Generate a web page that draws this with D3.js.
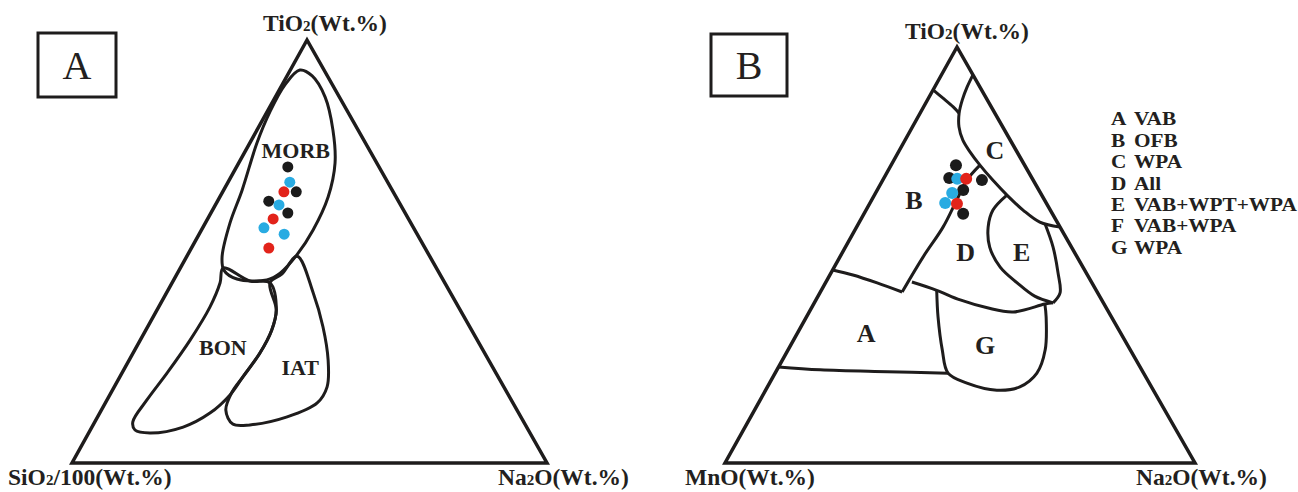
<!DOCTYPE html>
<html>
<head>
<meta charset="utf-8">
<script src="https://cdn.jsdelivr.net/npm/d3@7/dist/d3.min.js"></script>
<style>
  body { margin: 0; background: #fff; }
  svg text { font-family: "Liberation Serif", "Times New Roman", serif; fill: #231f20; }
</style>
</head>
<body>
<script>
'use strict';

// ---- panel A : TiO2 - SiO2/100 - Na2O  (each point is [TiO2, SiO2/100, Na2O]) ----
const morbField = [
    [92.9, 5.1, 2.0], [91.5, 3.2, 5.3], [86.5, 3.0, 10.5], [78.7, 5.3, 16.0],
    [70.9, 8.8, 20.3], [62.9, 14.3, 22.8], [55.1, 21.4, 23.5], [49.2, 27.8, 23.0],
    [44.9, 33.5, 21.6], [43.3, 37.1, 19.6], [43.5, 43.3, 13.2], [45.6, 45.0, 9.4],
    [48.7, 43.8, 7.5], [56.7, 38.1, 5.2], [64.5, 31.6, 3.9], [75.7, 22.8, 1.5],
    [83.0, 16.4, 0.6], [89.4, 10.0, 0.6]
];
const bonField = [
    [46.1, 44.9, 9.0], [43.0, 40.8, 16.2], [42.6, 36.8, 20.6], [36.2, 38.7, 25.1],
    [31.4, 42.1, 26.5], [26.0, 47.3, 26.7], [20.3, 53.8, 25.9], [16.1, 58.6, 25.3],
    [11.8, 65.0, 23.2], [8.5, 72.3, 19.2], [7.1, 80.0, 12.9], [7.8, 82.8, 9.4],
    [9.7, 82.3, 8.0], [14.9, 76.7, 8.4], [21.3, 69.2, 9.5], [29.1, 60.4, 10.5],
    [36.9, 52.3, 10.8], [42.6, 47.3, 10.1]
];
const iatField = [
    [42.6, 36.8, 20.6], [44.7, 33.2, 22.1], [48.9, 27.9, 23.2], [40.2, 28.9, 30.9],
    [32.2, 30.9, 36.9], [24.3, 33.8, 41.9], [18.0, 37.2, 44.8], [14.2, 41.2, 44.6],
    [10.9, 49.2, 39.9], [9.0, 58.0, 33.0], [9.2, 61.5, 29.3], [12.5, 61.3, 26.2],
    [16.8, 57.8, 25.4], [20.3, 53.8, 25.9], [26.0, 47.3, 26.7], [31.4, 42.1, 26.5],
    [36.2, 38.7, 25.1]
];
const fieldLabelsA = [
    { name: "MORB", pos: [74.0, 15.5, 10.5] },
    { name: "BON", pos: [27.4, 54.4, 18.2] },
    { name: "IAT", pos: [22.7, 40.5, 36.8] }
];
const samplesA_black = [[70.0, 19.2, 10.8], [64.1, 20.4, 15.5], [61.9, 27.3, 10.8], [59.1, 24.7, 16.2]];
const samplesA_blue = [[66.4, 20.6, 13.0], [61.0, 25.6, 13.4], [55.6, 31.5, 12.9], [54.1, 28.0, 17.9]];
const samplesA_red = [[64.1, 23.0, 12.9], [57.7, 28.5, 13.8], [50.8, 32.9, 16.3]];

// ---- panel B : TiO2 - MnO - Na2O  (each point is [TiO2, MnO, Na2O]) ----
const topLine = [[89.7, 10.3, 0], [87.7, 9.2, 3.1], [85.6, 8.1, 6.3], [84.1, 7.6, 8.3]];
const cBoundary = [
    [93.3, 0, 6.7], [90.4, 2.7, 6.9], [87.3, 5.3, 7.4], [84.1, 7.6, 8.3],
    [80.8, 9.3, 9.9], [77.6, 10.1, 12.3], [74.8, 10.0, 15.2], [71.6, 9.5, 18.9],
    [68.0, 8.6, 23.4], [64.4, 7.4, 28.2], [60.8, 5.8, 33.4], [57.9, 3.7, 38.4],
    [56.7, 0, 43.3]
];
const bdBoundary = [
    [71.6, 9.5, 18.9], [68.0, 14.1, 17.9], [63.2, 18.7, 18.1], [56.7, 24.9, 18.4],
    [49.5, 32.8, 17.7], [41.1, 41.5, 17.4]
];
const baBoundary = [[46.4, 53.6, 0], [45.2, 49.9, 4.9], [43.3, 45.7, 11.0], [41.1, 41.5, 17.4]];
const dgBoundary = [
    [43.5, 38.2, 18.3], [41.6, 34.0, 24.6], [39.2, 30.1, 30.7], [37.3, 25.3, 37.4],
    [36.3, 20.3, 43.4], [38.2, 12.6, 49.2], [38.5, 10.7, 50.8]
];
const eLeftBoundary = [
    [64.4, 7.4, 28.2], [60.8, 12.2, 27.0], [56.7, 15.3, 28.0], [51.9, 17.4, 30.7],
    [47.1, 17.6, 35.3], [43.3, 15.9, 40.8], [40.1, 13.8, 46.1], [38.5, 10.7, 50.8]
];
const eRightBoundary = [[57.5, 2.8, 39.7], [51.9, 3.9, 44.1], [45.7, 6.0, 48.3], [40.9, 8.0, 51.1], [38.5, 10.7, 50.8]];
const gBoundary = [
    [41.6, 34.0, 24.6], [35.1, 36.9, 28.0], [27.2, 40.0, 32.8], [21.6, 41.6, 36.8],
    [19.2, 38.8, 42.0], [17.5, 33.3, 49.2], [18.3, 28.0, 53.7], [21.6, 22.7, 55.7],
    [27.2, 18.1, 54.7], [35.1, 13.9, 51.0], [38.2, 12.6, 49.2]
];
const aBottomBoundary = [[23.1, 76.9, 0], [22.4, 68.4, 9.2], [21.9, 54.2, 23.7], [21.6, 41.6, 36.8]];
const fieldLabelsB = [
    { name: "A", pos: [31.3, 54.1, 14.6] },
    { name: "B", pos: [63.2, 27.8, 9.0] },
    { name: "C", pos: [75.2, 4.5, 20.3] },
    { name: "D", pos: [50.7, 23.1, 26.2] },
    { name: "E", pos: [50.7, 11.2, 38.1] },
    { name: "G", pos: [28.4, 30.3, 41.3] }
];
const samplesB_black = [[71.6, 14.6, 13.8], [68.5, 17.6, 13.9], [68.0, 10.9, 21.1], [65.6, 16.1, 18.3], [59.9, 19.0, 21.1]];
const samplesB_blue = [[68.3, 16.0, 15.7], [64.9, 18.8, 16.3], [62.5, 21.5, 16.0]];
const samplesB_red = [[68.3, 14.1, 17.6], [62.3, 19.1, 18.6]];

const legendKeys = ["A", "B", "C", "D", "E", "F", "G"];
const legendNames = ["VAB", "OFB", "WPA", "All", "VAB+WPT+WPA", "VAB+WPA", "WPA"];

(function() {

    const ink = "#1e1c1c";
    const colors = { black: "#1b1b1b", blue: "#29abe2", red: "#e2231a" };

    let svg = d3.select("body").append("svg")
        .attr("width", 1298)
        .attr("height", 492);

    // ternary -> pixel, using the triangle's corners
    function makeTernary(p) {
        let yScale = d3.scaleLinear().domain([0, 1]).range([p.left[1], p.apex[1]]);
        let xScale = d3.scaleLinear().domain([0, 1]).range([p.left[0], p.right[0]]);
        let k = (p.apex[0] - p.left[0]) / (p.right[0] - p.left[0]);
        return function(d) {
            let s = d[0] + d[1] + d[2];
            let t = d[0] / s, r = d[2] / s;
            return [xScale(r + t * k), yScale(t)];
        };
    }

    function drawFrame(map, g) {
        let corners = [[100, 0, 0], [0, 100, 0], [0, 0, 100]];
        g.append("path")
            .attr("d", d3.line()(corners.map(map)) + "Z")
            .attr("fill", "none")
            .attr("stroke", ink)
            .attr("stroke-width", 3.5)
            .attr("stroke-linejoin", "miter");
    }

    function drawCurve(map, g, pts, closed) {
        let line = d3.line().curve(closed ? d3.curveCatmullRomClosed.alpha(0.5) : d3.curveCatmullRom.alpha(0.5));
        g.append("path")
            .attr("d", line(pts.map(map)))
            .attr("fill", "none")
            .attr("stroke", ink)
            .attr("stroke-width", 3)
            .attr("stroke-linejoin", "round");
    }

    function drawLabels(map, g, labels, size) {
        g.selectAll(null)
            .data(labels)
            .enter()
            .append("text")
            .attr("x", (d) => map(d.pos)[0])
            .attr("y", (d) => map(d.pos)[1])
            .attr("dy", "0.35em")
            .attr("text-anchor", "middle")
            .style("font-size", size + "px")
            .style("font-weight", "bold")
            .text((d) => d.name);
    }

    function drawSamples(map, g, rows, color, r) {
        g.selectAll(null)
            .data(rows)
            .enter()
            .append("circle")
            .attr("cx", (d) => map(d)[0])
            .attr("cy", (d) => map(d)[1])
            .attr("r", r)
            .attr("fill", color);
    }

    // box with panel letter
    function panelBox(x, y, w, h, letter) {
        svg.append("rect")
            .attr("x", x).attr("y", y)
            .attr("width", w).attr("height", h)
            .attr("fill", "none")
            .attr("stroke", ink)
            .attr("stroke-width", 3);
        svg.append("text")
            .attr("x", x + w / 2)
            .attr("y", y + h / 2)
            .attr("dy", "0.35em")
            .attr("text-anchor", "middle")
            .style("font-size", "40px")
            .text(letter);
    }

    // axis label with small "2"
    function axisLabel(x, y, anchor, before, after) {
        let t = svg.append("text")
            .attr("x", x).attr("y", y)
            .attr("text-anchor", anchor)
            .style("font-size", "23.5px")
            .style("font-weight", "bold");
        t.append("tspan").text(before);
        if (after !== null) {
            t.append("tspan").style("font-size", "15px").text("2");
            t.append("tspan").text(after);
        }
    }

    // ---------------- panel A ----------------
    let mapA = makeTernary({ apex: [307, 40], left: [72, 463], right: [547, 463] });
    let gA = svg.append("g");
    drawFrame(mapA, gA);
    drawCurve(mapA, gA, morbField, true);
    drawCurve(mapA, gA, bonField, true);
    drawCurve(mapA, gA, iatField, true);
    drawLabels(mapA, gA, fieldLabelsA, 22);
    drawSamples(mapA, gA, samplesA_black, colors.black, 5.5);
    drawSamples(mapA, gA, samplesA_blue, colors.blue, 5.5);
    drawSamples(mapA, gA, samplesA_red, colors.red, 5.5);

    panelBox(38, 33, 78, 64, "A");
    axisLabel(325, 31, "middle", "TiO", "(Wt.%)");
    axisLabel(8, 485, "start", "SiO", "/100(Wt.%)");
    axisLabel(498, 485, "start", "Na", "O(Wt.%)");

    // ---------------- panel B ----------------
    let mapB = makeTernary({ apex: [957, 47], left: [725, 463], right: [1195, 463] });
    let gB = svg.append("g");
    drawFrame(mapB, gB);
    drawCurve(mapB, gB, topLine, false);
    drawCurve(mapB, gB, cBoundary, false);
    drawCurve(mapB, gB, bdBoundary, false);
    drawCurve(mapB, gB, baBoundary, false);
    drawCurve(mapB, gB, dgBoundary, false);
    drawCurve(mapB, gB, eLeftBoundary, false);
    drawCurve(mapB, gB, eRightBoundary, false);
    drawCurve(mapB, gB, gBoundary, false);
    drawCurve(mapB, gB, aBottomBoundary, false);
    drawLabels(mapB, gB, fieldLabelsB, 26);
    drawSamples(mapB, gB, samplesB_black, colors.black, 6);
    drawSamples(mapB, gB, samplesB_blue, colors.blue, 6);
    drawSamples(mapB, gB, samplesB_red, colors.red, 6);

    panelBox(711, 34, 76, 62, "B");
    axisLabel(967, 39, "middle", "TiO", "(Wt.%)");
    axisLabel(685, 485, "start", "MnO(Wt.%)", null);
    axisLabel(1136, 485, "start", "Na", "O(Wt.%)");

    // legend (letters are a bit wide in the original, so stretch horizontally)
    let legend = svg.append("g")
        .attr("transform", "translate(1111,0) scale(1.15,1)")
        .style("font-size", "18.5px")
        .style("font-weight", "bold");
    legendKeys.forEach((key, i) => {
        let y = 119 + i * 21.4;
        legend.append("text").attr("x", 0).attr("y", y).attr("dy", "0.35em").text(key);
        legend.append("text").attr("x", 20).attr("y", y).attr("dy", "0.35em").text(legendNames[i]);
    });

})();
</script>
</body>
</html>
